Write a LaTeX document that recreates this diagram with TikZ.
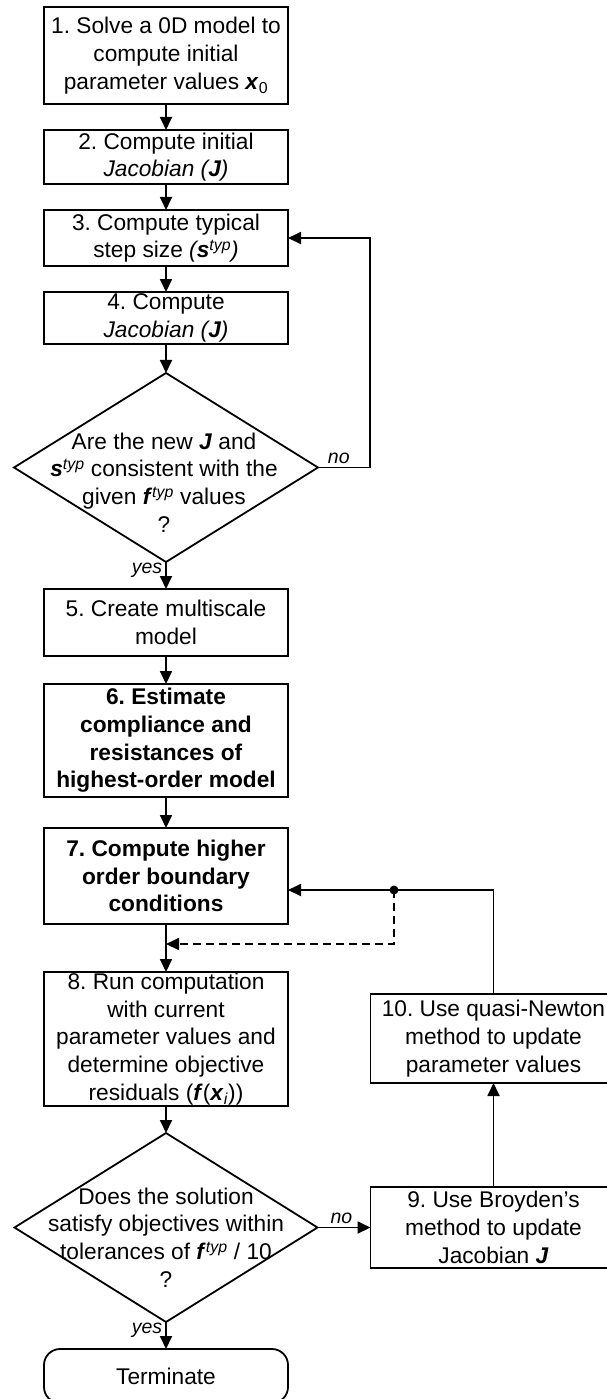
\documentclass[tikz,border=0pt]{standalone}
\usepackage{fontspec}
\setmainfont{Liberation Sans}
\usetikzlibrary{positioning, arrows.meta, calc, shapes.geometric}
\frenchspacing
\newcommand{\boxfont}{\fontsize{22.7}{27.7}\selectfont}
\newcommand{\bvec}[1]{\textbf{\textit{#1}}}
\newcommand{\typ}{\textsuperscript{\textit{typ}}}

\begin{document}
\begin{tikzpicture}[x=1pt, y=-1pt,
        every node/.style={font=\boxfont},
        box/.style={rectangle, draw, line width=1.8pt, minimum width=244pt,
          inner sep=0pt, outer sep=0pt, align=center},
        boldbox/.style={box, font=\boxfont\bfseries},
        decision/.style={diamond, draw, line width=1.8pt, inner sep=0pt,
          outer sep=0pt, minimum width=304pt, minimum height=189pt},
        qtext/.style={align=center, inner sep=0pt},
        endbox/.style={box, rounded corners=16pt},
        ynlbl/.style={font=\fontsize{19.5}{22}\selectfont\itshape, inner sep=3pt},
        arr/.style={-{Triangle[length=13pt, width=12pt]}, line width=1.8pt}]

      \useasboundingbox (0,0) rectangle (607,1399);

      % main column
      \node[box, minimum height=97pt] (b1) at (166,55.5)
        {1. Solve a 0D model to\\compute initial\\parameter values \bvec{x}\textsubscript{0}};
      \node[box, minimum height=54pt, below=26pt of b1] (b2)
        {2. Compute initial\\\textit{Jacobian (\bvec{J})}};
      \node[box, minimum height=56pt, below=26pt of b2] (b3)
        {3. Compute typical\\step size \textit{(\bvec{s}\typ)}};
      \node[box, minimum height=52pt, below=26pt of b3] (b4)
        {4. Compute\\\textit{Jacobian (\bvec{J})}};
      \node[decision, below=29pt of b4] (d1) {};
      \node[qtext] (q1) at ($(d1.center)+(-2,15)$)
        {Are the new \bvec{J} and\\\bvec{s}\typ{} consistent with the\\given \bvec{f}\typ{} values\\?};
      \node[box, minimum height=67pt, below=27pt of d1] (b5)
        {5. Create multiscale\\model};
      \node[boldbox, minimum height=113pt, below=28pt of b5] (b6)
        {6. Estimate\\compliance and\\resistances of\\highest-order model};
      \node[boldbox, minimum height=96pt, below=31pt of b6] (b7)
        {7. Compute higher\\order boundary\\conditions};
      \node[box, minimum height=134pt, below=48pt of b7] (b8)
        {8. Run computation\\with current\\parameter values and\\determine objective\\residuals (\bvec{f}(\bvec{x}\textsubscript{\textit{i}}))};
      \node[decision, minimum width=303pt, below=27pt of b8] (d2) {};
      \node[qtext] (q2) at ($(d2.center)+(0,10)$)
        {Does the solution\\satisfy objectives within\\tolerances of \bvec{f}\typ{} / 10\\?};
      \node[endbox, minimum height=54pt, below=27pt of d2] (term) {Terminate};

      % update branch
      \node[box, minimum width=246pt, minimum height=81pt, right=53pt of d2] (b9)
        {9. Use Broyden's\\method to update\\Jacobian \bvec{J}};
      \node[box, minimum width=246pt, minimum height=89pt, above=104pt of b9] (b10)
        {10. Use quasi-Newton\\method to update\\parameter values};

      \coordinate (jn) at ($(b7.east)+(106,14)$);
      \coordinate (mrg) at ($(b7.south)+(0,20)$);

      \draw[arr] (b1) -- (b2);
      \draw[arr] (b2) -- (b3);
      \draw[arr] (b3) -- (b4);
      \draw[arr] (b4) -- (d1);
      \draw[arr] (d1) -- node[ynlbl, left, pos=0.3] {yes} (b5);
      \draw[arr] (d1.east) -- node[ynlbl, above, pos=0.4] {no} ++(52,0) |- (b3.east);
      \draw[arr] (b5) -- (b6);
      \draw[arr] (b6) -- (b7);
      \draw[arr] (b7) -- (b8);
      \draw[arr] (b8) -- (d2);
      \draw[arr] (d2) -- node[ynlbl, left, pos=0.3] {yes} (term);
      \draw[arr] (d2.east) -- node[ynlbl, above, pos=0.45] {no} (b9.west);
      \draw[arr] (b9) -- (b10);
      \draw[arr] (b10.north) |- (jn) -- (b7.east |- jn);
      \fill (jn) circle (4.5pt);
      \draw[arr, dash pattern=on 8pt off 5pt] (jn) |- (mrg);
    \end{tikzpicture}
\end{document}
